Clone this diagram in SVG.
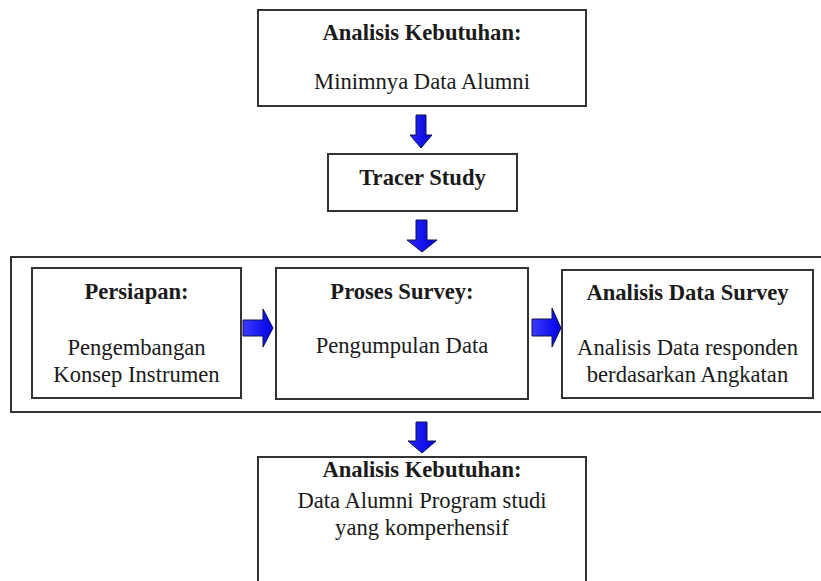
<svg xmlns="http://www.w3.org/2000/svg" width="821" height="581" viewBox="0 0 821 581">
<defs>
<linearGradient id="gh" x1="0" y1="0" x2="1" y2="0">
<stop offset="0" stop-color="#3a3aff"/><stop offset="1" stop-color="#0000e6"/>
</linearGradient>
<linearGradient id="gv" x1="0" y1="0" x2="1" y2="0">
<stop offset="0" stop-color="#2a2aff"/><stop offset="1" stop-color="#0000d8"/>
</linearGradient>
<style>
.box{fill:#fff;stroke:#333;stroke-width:2}
.t{font-family:"Liberation Serif","Times New Roman",serif;font-size:22.6px;fill:#1a1a1a;text-anchor:middle}
.b{font-weight:bold}
.ah{fill:url(#gh);stroke:#10104a;stroke-width:1}
.av{fill:url(#gv);stroke:#10104a;stroke-width:1}
</style>
</defs>
<rect width="821" height="581" fill="#fff"/>
<g id="container">
<rect class="box" x="11" y="257" width="815" height="155"/>
</g>
<g id="connectors">
<polygon class="av" points="416,115 426,115 426,135 432,135 421,148 410,135 416,135"/>
<polygon class="av" points="416,220 427,220 427,240 437,240 422,252 407,240 416,240"/>
<polygon class="av" points="416,422 427,422 427,441 436,441 422,453 408,441 416,441"/>
<polygon class="ah" points="243,320 263,320 263,309 273,328 263,347 263,336 243,336"/>
<polygon class="ah" points="532,319 552,319 552,308 561,328 552,347 552,336 532,336"/>
</g>
<g id="node-top">
<rect class="box" x="258" y="10" width="328" height="96"/>
<text class="t b" x="422" y="40">Analisis Kebutuhan:</text>
<text class="t" x="422" y="89">Minimnya Data Alumni</text>
</g>
<g id="node-tracer">
<rect class="box" x="328" y="154" width="189" height="57"/>
<text class="t b" x="422.5" y="185">Tracer Study</text>
</g>
<g id="node-persiapan">
<rect class="box" x="32" y="268" width="209" height="130"/>
<text class="t b" x="136.5" y="299">Persiapan:</text>
<text class="t" x="136.5" y="355">Pengembangan</text>
<text class="t" x="136.5" y="382">Konsep Instrumen</text>
</g>
<g id="node-proses">
<rect class="box" x="276" y="268" width="252" height="131"/>
<text class="t b" x="402" y="299">Proses Survey:</text>
<text class="t" x="402" y="353">Pengumpulan Data</text>
</g>
<g id="node-analisis-data">
<rect class="box" x="562" y="270" width="251" height="128"/>
<text class="t b" x="687.5" y="300">Analisis Data Survey</text>
<text class="t" x="687.5" y="355">Analisis Data responden</text>
<text class="t" x="687.5" y="382">berdasarkan Angkatan</text>
</g>
<g id="node-bottom">
<rect class="box" x="258" y="457" width="328" height="140"/>
<text class="t b" x="422" y="477">Analisis Kebutuhan:</text>
<text class="t" x="422" y="508">Data Alumni Program studi</text>
<text class="t" x="422" y="535">yang komperhensif</text>
</g>
</svg>
